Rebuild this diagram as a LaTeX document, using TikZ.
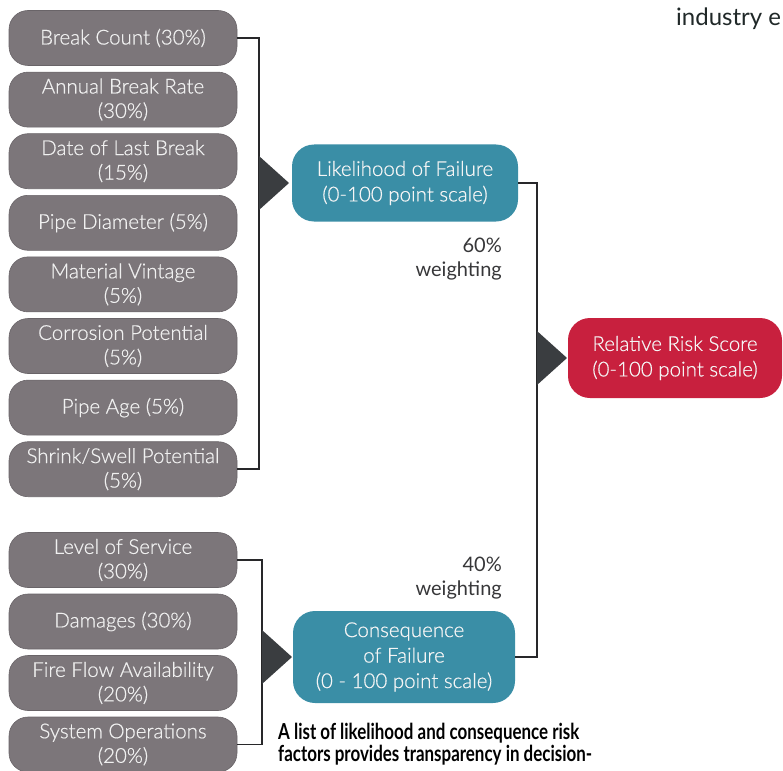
\documentclass[tikz,border=0pt]{standalone}
\usepackage{fontspec}
\setmainfont{Lato}
\newfontfamily\lightfont[FakeBold=0.6]{Lato Light}
\newfontfamily\capfont[FakeStretch=0.77]{Lato}
\begin{document}
\begin{tikzpicture}[x=1pt,y=-1pt,
  factor/.style={draw=factorgrey!85!black, line width=0.6pt, fill=factorgrey,
    rounded corners=19pt, minimum width=228pt, minimum height=55pt,
    align=center, text=white!94!black, font=\lightfont\fontsize{20.5}{24.5}\selectfont, inner sep=2pt},
  score/.style={fill=#1, rounded corners=22pt, align=center, text=white!96!black,
    font=\lightfont\fontsize{20.5}{25.5}\selectfont, inner sep=2pt},
  link/.style={draw=linkgrey, line width=1.8pt},
  wedge/.style={fill=wedgegrey},
  weight/.style={align=right, text=labelgrey, font=\fontsize{20}{24.5}\selectfont, anchor=east, inner sep=0pt},
]
\definecolor{factorgrey}{RGB}{124,118,122}
\definecolor{tealbox}{RGB}{58,142,166}
\definecolor{riskred}{RGB}{200,32,62}
\definecolor{linkgrey}{RGB}{40,40,42}
\definecolor{wedgegrey}{RGB}{58,61,64}
\definecolor{labelgrey}{RGB}{55,55,57}
\definecolor{headink}{RGB}{32,40,40}

\useasboundingbox (0,0) rectangle (783,770);

% likelihood factors
\node[factor] (f1) at (123,38)    {Break Count (30\%)};
\node[factor] (f2) at (123,99.6)  {Annual Break Rate\\(30\%)};
\node[factor] (f3) at (123,161.2) {Date of Last Break\\(15\%)};
\node[factor] (f4) at (123,222.8) {Pipe Diameter (5\%)};
\node[factor] (f5) at (123,284.4) {Material Vintage\\(5\%)};
\node[factor] (f6) at (123,346)   {Corrosion Potential\\(5\%)};
\node[factor] (f7) at (123,407.6) {Pipe Age (5\%)};
\node[factor] (f8) at (123,469.2) {Shrink/Swell Potential\\(5\%)};

% consequence factors
\node[factor] (c1) at (123,560) {Level of Service\\(30\%)};
\node[factor] (c2) at (123,621.5) {Damages (30\%)};
\node[factor] (c3) at (123,683) {Fire Flow Availability\\(20\%)};
\node[factor] (c4) at (123,744.5) {System Operations\\(20\%)};

% aggregate scores
\node[score=tealbox, minimum width=226pt, minimum height=77pt] (like) at (405,183)
  {Likelihood of Failure\\(0-100 point scale)};
\node[score=tealbox, minimum width=222pt, minimum height=92pt] (cons) at (404,657)
  {Consequence\\of Failure\\(0 - 100 point scale)};
\node[score=riskred, minimum width=214pt, minimum height=80pt] (risk) at (675,358)
  {Relative Risk Score\\(0-100 point scale)};

% likelihood bracket
\coordinate (lbus) at (259,0);
\draw[link] (f1.east) -| (lbus |- f8.east) -- (f8.east);
\coordinate (lt) at (lbus |- like.west);
\fill[wedge] ([yshift=-27pt]lt) -- ([xshift=30pt]lt) -- ([yshift=27pt]lt) -- cycle;

% consequence bracket
\coordinate (cbus) at (262,0);
\draw[link] (c1.east) -| (cbus |- c4.east) -- (c4.east);
\coordinate (ct) at (cbus |- cons.west);
\fill[wedge] ([yshift=-27pt]ct) -- ([xshift=30pt]ct) -- ([yshift=27pt]ct) -- cycle;

% weighted combination
\coordinate (rbus) at (537,0);
\draw[link] (like.east) -| (rbus |- cons.east) -- (cons.east);
\coordinate (rt) at (rbus |- risk.west);
\fill[wedge] ([yshift=-27pt]rt) -- ([xshift=30pt]rt) -- ([yshift=27pt]rt) -- cycle;

\node[weight] (w60) at (502,259) {60\%\\weighting};
\node[weight] (w40) at (502,578) {40\%\\weighting};

% surrounding page text
\node[anchor=west, inner sep=0pt, text=headink, font=\fontsize{24}{28}\selectfont] (head) at (676,19) {industry e};
\node[anchor=north west, inner sep=0pt, align=left, text=black,
  font=\capfont\bfseries\fontsize{22}{22}\selectfont] (cap) at (278,723)
  {A list of likelihood and consequence risk\\factors provides transparency in decision-};
\end{tikzpicture}
\end{document}
